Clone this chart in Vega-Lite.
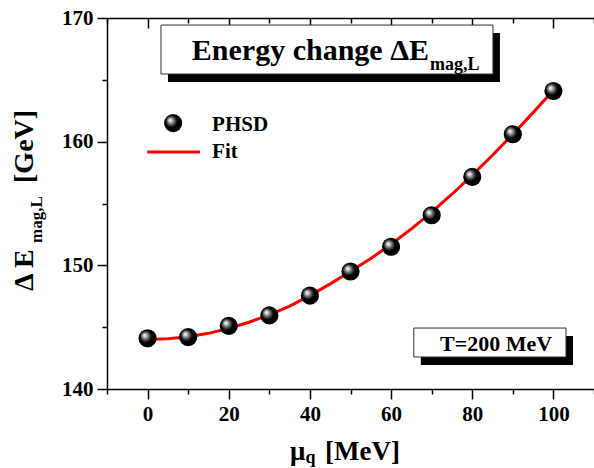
{
  "$schema": "https://vega.github.io/schema/vega-lite/v6.json",
  "width": 487,
  "height": 371,
  "autosize": {"type": "none"},
  "padding": {"left": 107, "top": 18, "right": 0, "bottom": 79},
  "background": "white",
  "resolve": {"axis": {"x": "independent", "y": "independent"}},
  "config": {
    "view": {"stroke": null},
    "font": "Liberation Serif",
    "axis": {
      "grid": false,
      "labelFont": "Liberation Serif",
      "labelFontWeight": "bold",
      "labelFontSize": 21,
      "labelColor": "black",
      "domainColor": "black",
      "domainWidth": 1.5,
      "tickColor": "black",
      "tickWidth": 1.5,
      "labelOverlap": false,
      "labelFlush": false
    }
  },
  "layer": [
    {
      "data": {"values": [
        {"mu": 0, "dE": 144.0}, {"mu": 5, "dE": 144.06}, {"mu": 10, "dE": 144.22}, {"mu": 15, "dE": 144.5},
        {"mu": 20, "dE": 144.9}, {"mu": 25, "dE": 145.4}, {"mu": 30, "dE": 146.0}, {"mu": 35, "dE": 146.7},
        {"mu": 40, "dE": 147.55}, {"mu": 45, "dE": 148.5}, {"mu": 50, "dE": 149.5}, {"mu": 55, "dE": 150.55},
        {"mu": 60, "dE": 151.7}, {"mu": 65, "dE": 152.95}, {"mu": 70, "dE": 154.3}, {"mu": 75, "dE": 155.75},
        {"mu": 80, "dE": 157.3}, {"mu": 85, "dE": 158.9}, {"mu": 90, "dE": 160.6}, {"mu": 95, "dE": 162.35},
        {"mu": 100, "dE": 164.15}
      ]},
      "mark": {"type": "line", "color": "#ff0000", "strokeWidth": 3, "opacity": 0},
      "encoding": {
        "x": {"field": "mu", "type": "quantitative", "scale": {"domain": [-10, 110], "nice": false, "zero": false}, "axis": {
          "orient": "bottom", "title": null,
          "values": [-10, 0, 10, 20, 30, 40, 50, 60, 70, 80, 90, 100, 110],
          "labelExpr": "datum.value % 20 == 0 ? datum.label : ''",
          "tickSize": {"condition": {"test": "datum.value % 20 == 0", "value": 10}, "value": 5},
          "labelPadding": 4
        }},
        "y": {"field": "dE", "type": "quantitative", "scale": {"domain": [140, 170], "nice": false, "zero": false}, "axis": {
          "orient": "left", "title": null,
          "values": [140, 150, 160, 170],
          "tickSize": 10,
          "labelPadding": 4
        }}
      }
    },
    {
      "data": {"values": [
        {"name": "title", "x": 3.3, "x2": 85.1, "y": 169.43, "y2": 165.47},
        {"name": "T", "x": 65.6, "x2": 103.1, "y": 144.93, "y2": 142.59}
      ]},
      "mark": {"type": "rect", "fill": "black", "xOffset": 7, "x2Offset": 7, "yOffset": 8, "y2Offset": 8},
      "encoding": {
        "x": {"field": "x", "type": "quantitative", "axis": {
          "orient": "top", "title": null, "labels": false,
          "values": [-10, 0, 10, 20, 30, 40, 50, 60, 70, 80, 90, 100, 110],
          "tickSize": {"condition": {"test": "datum.value % 20 == 0", "value": -10}, "value": -5}
        }},
        "x2": {"field": "x2"},
        "y": {"field": "y", "type": "quantitative", "axis": {
          "orient": "left", "title": null, "labels": false, "domain": false,
          "values": [145, 155, 165],
          "tickSize": 5
        }},
        "y2": {"field": "y2"}
      }
    },
    {
      "data": {"values": [
        {"name": "title", "x": 3.3, "x2": 85.1, "y": 169.43, "y2": 165.47},
        {"name": "T", "x": 65.6, "x2": 103.1, "y": 144.93, "y2": 142.59}
      ]},
      "mark": {"type": "rect", "fill": "white", "stroke": "#333333", "strokeWidth": 1},
      "encoding": {
        "x": {"field": "x", "type": "quantitative", "axis": null},
        "x2": {"field": "x2"},
        "y": {"field": "y", "type": "quantitative", "axis": null},
        "y2": {"field": "y2"}
      }
    },
    {
      "data": {"values": [
        {"mu": 0, "dE": 144.0}, {"mu": 5, "dE": 144.06}, {"mu": 10, "dE": 144.22}, {"mu": 15, "dE": 144.5},
        {"mu": 20, "dE": 144.9}, {"mu": 25, "dE": 145.4}, {"mu": 30, "dE": 146.0}, {"mu": 35, "dE": 146.7},
        {"mu": 40, "dE": 147.55}, {"mu": 45, "dE": 148.5}, {"mu": 50, "dE": 149.5}, {"mu": 55, "dE": 150.55},
        {"mu": 60, "dE": 151.7}, {"mu": 65, "dE": 152.95}, {"mu": 70, "dE": 154.3}, {"mu": 75, "dE": 155.75},
        {"mu": 80, "dE": 157.3}, {"mu": 85, "dE": 158.9}, {"mu": 90, "dE": 160.6}, {"mu": 95, "dE": 162.35},
        {"mu": 100, "dE": 164.15}
      ]},
      "mark": {"type": "line", "color": "#ff0000", "strokeWidth": 3},
      "encoding": {
        "x": {"field": "mu", "type": "quantitative", "axis": null},
        "y": {"field": "dE", "type": "quantitative", "axis": null}
      }
    },
    {
      "data": {"values": [
        {"mu": 0, "dE": 144.1}, {"mu": 10, "dE": 144.2}, {"mu": 20, "dE": 145.1}, {"mu": 30, "dE": 145.95},
        {"mu": 40, "dE": 147.55}, {"mu": 50, "dE": 149.5}, {"mu": 60, "dE": 151.5}, {"mu": 70, "dE": 154.05},
        {"mu": 80, "dE": 157.15}, {"mu": 90, "dE": 160.6}, {"mu": 100, "dE": 164.1}
      ]},
      "mark": {"type": "point", "shape": "circle", "filled": true, "size": 330, "opacity": 1, "strokeWidth": 0,
        "fill": {"gradient": "radial", "x1": 0.33, "y1": 0.33, "r1": 0, "x2": 0.45, "y2": 0.45, "r2": 0.55,
          "stops": [{"offset": 0, "color": "#ffffff"}, {"offset": 0.12, "color": "#dddddd"}, {"offset": 0.35, "color": "#6a6a6a"}, {"offset": 0.6, "color": "#000000"}, {"offset": 1, "color": "#000000"}]}},
      "encoding": {
        "x": {"field": "mu", "type": "quantitative", "axis": null},
        "y": {"field": "dE", "type": "quantitative", "axis": null}
      }
    },
    {
      "data": {"values": [{"x": -0.1, "y": 159.16}, {"x": 12.9, "y": 159.16}]},
      "mark": {"type": "line", "color": "#ff0000", "strokeWidth": 3},
      "encoding": {
        "x": {"field": "x", "type": "quantitative", "axis": null},
        "y": {"field": "y", "type": "quantitative", "axis": null}
      }
    },
    {
      "data": {"values": [{"x": 6.3, "y": 161.5}]},
      "mark": {"type": "point", "shape": "circle", "filled": true, "size": 330, "opacity": 1, "strokeWidth": 0,
        "fill": {"gradient": "radial", "x1": 0.33, "y1": 0.33, "r1": 0, "x2": 0.45, "y2": 0.45, "r2": 0.55,
          "stops": [{"offset": 0, "color": "#ffffff"}, {"offset": 0.12, "color": "#dddddd"}, {"offset": 0.35, "color": "#6a6a6a"}, {"offset": 0.6, "color": "#000000"}, {"offset": 1, "color": "#000000"}]}},
      "encoding": {
        "x": {"field": "x", "type": "quantitative", "axis": null},
        "y": {"field": "y", "type": "quantitative", "axis": null}
      }
    },
    {
      "data": {"values": [{"x": 15.9, "y": 160.86, "t": "PHSD"}, {"x": 15.9, "y": 158.68, "t": "Fit"}]},
      "mark": {"type": "text", "align": "left", "baseline": "alphabetic", "font": "Liberation Serif", "fontWeight": "bold", "fontSize": 21, "color": "black"},
      "encoding": {
        "x": {"field": "x", "type": "quantitative", "axis": null},
        "y": {"field": "y", "type": "quantitative", "axis": null},
        "text": {"field": "t"}
      }
    },
    {
      "data": {"values": [{"x": 69.34, "y": 166.6, "t": "Energy change ΔE"}]},
      "mark": {"type": "text", "align": "right", "baseline": "alphabetic", "font": "Liberation Serif", "fontWeight": "bold", "fontSize": 30, "color": "black"},
      "encoding": {
        "x": {"field": "x", "type": "quantitative", "axis": null},
        "y": {"field": "y", "type": "quantitative", "axis": null},
        "text": {"field": "t"}
      }
    },
    {
      "data": {"values": [{"x": 69.6, "y": 165.79, "t": "mag,L"}]},
      "mark": {"type": "text", "align": "left", "baseline": "alphabetic", "font": "Liberation Serif", "fontWeight": "bold", "fontSize": 18, "color": "black"},
      "encoding": {
        "x": {"field": "x", "type": "quantitative", "axis": null},
        "y": {"field": "y", "type": "quantitative", "axis": null},
        "text": {"field": "t"}
      }
    },
    {
      "data": {"values": [{"x": 72.05, "y": 143.07, "t": "T=200 MeV"}]},
      "mark": {"type": "text", "align": "left", "baseline": "alphabetic", "font": "Liberation Serif", "fontWeight": "bold", "fontSize": 22, "color": "black"},
      "encoding": {
        "x": {"field": "x", "type": "quantitative", "axis": null},
        "y": {"field": "y", "type": "quantitative", "axis": null},
        "text": {"field": "t"}
      }
    },
    {
      "data": {"values": [{"x": 35.1, "y": 134.26, "t": "μ"}, {"x": 43.7, "y": 134.26, "t": "[MeV]"}]},
      "mark": {"type": "text", "align": "left", "baseline": "alphabetic", "font": "Liberation Serif", "fontWeight": "bold", "fontSize": 27, "color": "black"},
      "encoding": {
        "x": {"field": "x", "type": "quantitative", "axis": null},
        "y": {"field": "y", "type": "quantitative", "axis": null},
        "text": {"field": "t"}
      }
    },
    {
      "data": {"values": [{"x": 38.9, "y": 134.02, "t": "q"}]},
      "mark": {"type": "text", "align": "left", "baseline": "alphabetic", "font": "Liberation Serif", "fontWeight": "bold", "fontSize": 18, "color": "black"},
      "encoding": {
        "x": {"field": "x", "type": "quantitative", "axis": null},
        "y": {"field": "y", "type": "quantitative", "axis": null},
        "text": {"field": "t"}
      }
    },
    {
      "data": {"values": [{"x": -28.2, "y": 147.92, "t": "Δ E"}, {"x": -28.2, "y": 156.66, "t": "[GeV]"}]},
      "mark": {"type": "text", "align": "left", "baseline": "alphabetic", "angle": 270, "font": "Liberation Serif", "fontWeight": "bold", "fontSize": 28, "color": "black"},
      "encoding": {
        "x": {"field": "x", "type": "quantitative", "axis": null},
        "y": {"field": "y", "type": "quantitative", "axis": null},
        "text": {"field": "t"}
      }
    },
    {
      "data": {"values": [{"x": -26.0, "y": 151.81, "t": "mag,L"}]},
      "mark": {"type": "text", "align": "left", "baseline": "alphabetic", "angle": 270, "font": "Liberation Serif", "fontWeight": "bold", "fontSize": 17, "color": "black"},
      "encoding": {
        "x": {"field": "x", "type": "quantitative", "axis": null},
        "y": {"field": "y", "type": "quantitative", "axis": null},
        "text": {"field": "t"}
      }
    }
  ]
}
